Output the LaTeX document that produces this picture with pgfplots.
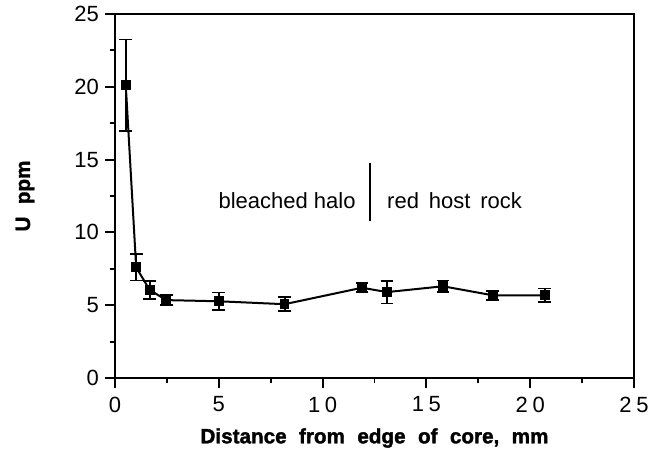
\documentclass[border=0pt]{standalone}
\usepackage{pgfplots}
\pgfplotsset{compat=1.18}
\usepackage{fontspec}
\setmainfont{Liberation Sans}
\newfontfamily\lblfont[FakeBold=1.6]{Liberation Sans Bold}
\begin{document}
\begin{tikzpicture}[x=1pt,y=1pt]
\begin{axis}[
  name=ax,
  scale only axis,
  width=389.25pt, height=273pt,
  xmin=0, xmax=25, ymin=0, ymax=25,
  xtick={0,5,10,15,20,25},
  xticklabels={0,5,1\hspace{3.5pt}0,1\hspace{3.5pt}5,2\hspace{3.5pt}0,2\hspace{3.5pt}5},
  ytick={0,5,10,15,20,25},
  yticklabels={0,5,10,15,20,25},
  minor x tick num=1, minor y tick num=1,
  tick pos=left, tick align=outside,
  major tick length=7.5pt, minor tick length=4pt,
  every tick/.style={black, line width=1.4pt},
  axis line style={line width=1.9pt},
  ticklabel style={font=\fontsize{16.5}{18}\selectfont},
  xticklabel style={yshift=-3pt},
  yticklabel style={xshift=-1pt},
  xlabel={\lblfont\fontsize{15.5}{18}\selectfont Distance\hspace{0.6em}from\hspace{0.6em}edge\hspace{0.6em}of\hspace{0.6em}core,\hspace{0.6em}mm},
  xlabel style={at={(axis description cs:0.5,0)}, anchor=center, yshift=-45pt},
  clip=false,
]
\addplot[black, line width=1.5pt, mark=square*, mark size=2.9pt,
  error bars/.cd, y dir=both, y explicit,
  error bar style={line width=1.4pt},
  error mark options={rotate=90, mark size=4.8pt, line width=1.4pt}]
coordinates {
  (0.52,20.1) +- (0,3.15)
  (1.02,7.6) +- (0,0.9)
  (1.67,6.05) +- (0,0.6)
  (2.47,5.35) +- (0,0.34)
  (5.0,5.27) +- (0,0.6)
  (8.17,5.07) +- (0,0.48)
  (11.9,6.2) +- (0,0.3)
  (13.1,5.9) +- (0,0.78)
  (15.8,6.3) +- (0,0.4)
  (18.2,5.68) +- (0,0.3)
  (20.7,5.68) +- (0,0.47)
};
\addplot[black, line width=1.4pt, forget plot] coordinates {(12.3,10.8) (12.3,14.8)};
\node[anchor=east, inner sep=0pt, font=\fontsize{16.5}{18}\selectfont] at (axis cs:11.6,12.2) {bleached halo};
\node[anchor=west, inner sep=0pt, font=\fontsize{16.5}{18}\selectfont] at (axis cs:13.1,12.2) {red\hspace{0.45em}host\hspace{0.45em}rock};
\end{axis}
\node[rotate=90, anchor=center, inner sep=0pt] at ([xshift=-67.5pt]ax.west) {\lblfont\fontsize{15.5}{18}\selectfont U\hspace{0.6em}ppm};
\path[use as bounding box] ([xshift=-86.25pt, yshift=-57.75pt]ax.south west) rectangle ([xshift=411.75pt, yshift=283.5pt]ax.south west);
\end{tikzpicture}
\end{document}
